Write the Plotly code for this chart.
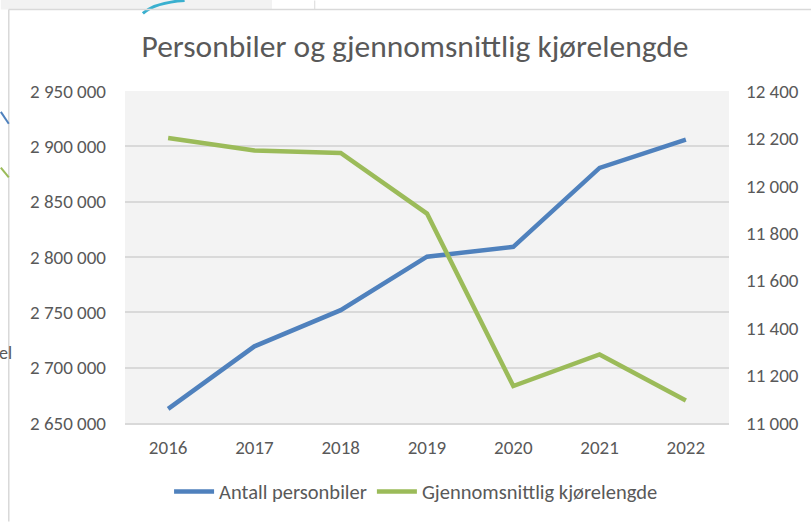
import plotly.graph_objects as go

years = ["2016", "2017", "2018", "2019", "2020", "2021", "2022"]
antall_personbiler = [2662800, 2719300, 2752000, 2800300, 2809200, 2880500, 2906000]
kjorelengde = [12202, 12149, 12139, 11883, 11156, 11289, 11095]

left_ticks = [2650000, 2700000, 2750000, 2800000, 2850000, 2900000, 2950000]
right_ticks = [11000, 11200, 11400, 11600, 11800, 12000, 12200, 12400]

FONT = "Calibri, Carlito, 'Open Sans', sans-serif"
TFONT = "Calibri, Carlito, Lato, sans-serif"
TXT = "#595959"
GRID = "#d9d9d9"

fig = go.Figure()
fig.add_trace(go.Scatter(x=years, y=antall_personbiler, name="Antall personbiler",
                         mode="lines", line=dict(color="#4f81bd", width=4.5), yaxis="y"))
fig.add_trace(go.Scatter(x=years, y=kjorelengde, name="Gjennomsnittlig kjørelengde",
                         mode="lines", line=dict(color="#9bbb59", width=4.5), yaxis="y2"))

PW = 608.0
PH = 334.0

fig.update_layout(
    width=811, height=524,
    margin=dict(l=125, r=78, t=91, b=99),
    paper_bgcolor="white", plot_bgcolor="#f3f3f3",
    separators=", ",
    font=dict(family=FONT, color=TXT, size=19),
    title=dict(text="Personbiler og gjennomsnittlig kjørelengde", x=415 / 811, xanchor="center",
               y=1 - 46 / 524, yanchor="middle", font=dict(size=31.5, color=TXT, family=TFONT)),
    xaxis=dict(type="category", range=[-0.5, 6.5], showgrid=False, showline=True,
               linecolor=GRID, linewidth=1.5, ticks="", ticklabelstandoff=6,
               tickfont=dict(size=19, color=TXT)),
    yaxis=dict(range=[2650000, 2950000], tickvals=left_ticks, tickformat=",d",
               showgrid=True, gridcolor=GRID, gridwidth=1.5, zeroline=False,
               ticks="", ticklabelstandoff=18, tickfont=dict(size=19, color=TXT)),
    yaxis2=dict(range=[11000, 12400], tickvals=right_ticks, tickformat=",d",
                overlaying="y", side="right", showgrid=False, zeroline=False,
                ticks="", ticklabelstandoff=16, tickfont=dict(size=19, color=TXT)),
    legend=dict(orientation="h", x=(418 - 125) / PW, xanchor="center", y=-(494 - 425) / PH,
                yanchor="middle", font=dict(size=20.5, color=TXT), itemwidth=40,
                bgcolor="rgba(0,0,0,0)"),
    showlegend=True,
)

# background artefacts around the chart frame (screenshot context)
shapes = [
    dict(type="rect", xref="paper", yref="paper", x0=-125 / PW, x1=148 / PW,
         y0=1 + 82 / PH, y1=1 + 100 / PH, fillcolor="#f2f2f2", line=dict(width=0), layer="below"),
    dict(type="line", xref="paper", yref="paper", x0=(316 - 125) / PW, x1=(316 - 125) / PW,
         y0=1 + 82 / PH, y1=1 + 91 / PH, line=dict(color=GRID, width=1)),
    dict(type="path", xref="paper", yref="paper",
         path="M %f,%f Q %f,%f %f,%f" % ((143 - 125) / PW, 1 + (91 - 13) / PH,
                                        (155 - 125) / PW, 1 + (91 - 2) / PH,
                                        (185 - 125) / PW, 1 + 91 / PH),
         line=dict(color="#3ab0cf", width=3)),
    dict(type="line", xref="paper", yref="paper", x0=-117 / PW, x1=1.2,
         y0=1 + 82 / PH, y1=1 + 82 / PH, line=dict(color=GRID, width=1.5)),
    dict(type="line", xref="paper", yref="paper", x0=-117 / PW, x1=-117 / PW,
         y0=-99 / PH, y1=1 + 82 / PH, line=dict(color=GRID, width=1.5)),
    dict(type="line", xref="paper", yref="paper", x0=-125 / PW, x1=-117 / PW,
         y0=(425 - 112) / PH, y1=(425 - 124) / PH, line=dict(color="#4f81bd", width=2)),
    dict(type="line", xref="paper", yref="paper", x0=-125 / PW, x1=-117 / PW,
         y0=(425 - 168) / PH, y1=(425 - 178) / PH, line=dict(color="#9bbb59", width=2)),
]
fig.update_layout(shapes=shapes)
fig.add_annotation(text="el", xref="paper", yref="paper", x=-125 / PW, y=(425 - 355) / PH,
                   xanchor="left", yanchor="middle", showarrow=False, xshift=-4,
                   font=dict(size=18, color=TXT, family=FONT))

fig.write_html("out.html", config={"displayModeBar": False},
               post_script="document.body.style.margin='0';document.body.style.overflow='hidden';")
